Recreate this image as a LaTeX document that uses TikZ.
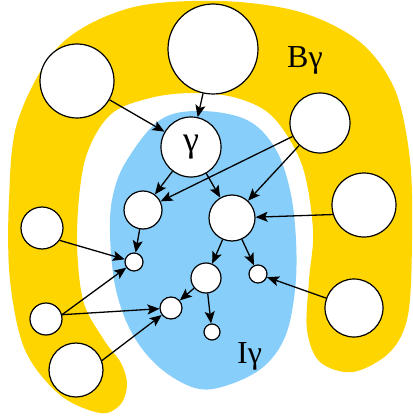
\documentclass[tikz,border=0pt]{standalone}
\usepackage{fontspec}
\setmainfont{Liberation Serif}
\usetikzlibrary{arrows.meta}

\definecolor{byellow}{RGB}{255,213,0}
\definecolor{iblue}{RGB}{135,206,250}

\begin{document}
\begin{tikzpicture}[
  x=1pt, y=-1pt,
  vertex/.style={
    circle,
    draw=black,
    fill=white,
    line width=1.2pt,
    inner sep=0pt,
    font=\fontsize{36}{38}\selectfont
  },
  edge/.style={
    -{Stealth[length=12pt,width=10pt,inset=2.5pt]},
    line width=1.3pt
  },
  regionlabel/.style={
    anchor=base west,
    inner sep=0pt,
    font=\fontsize{32}{34}\selectfont
  }
]
\useasboundingbox (0,0) rectangle (412,417);

% Boundary region B
\fill[byellow] plot[smooth cycle, tension=0.55] coordinates {
  (100,413) (60,395) (25,350) (10,280) (9,200) (18,120) (60,45) (130,8)
  (220,1) (300,12) (360,42) (395,90) (410,160) (412,240) (408,315)
  (390,352) (353,372) (320,362) (307,330) (309,280) (313,230) (302,165)
  (273,117) (237,98) (193,93) (150,98) (110,115) (85,160) (77,233)
  (83,300) (104,340) (121,363) (127,385) (120,405)
};

% Inner region I
\fill[iblue] plot[smooth cycle, tension=0.6] coordinates {
  (200,111) (247,120) (275,148) (290,190) (296,240) (295,290) (285,337)
  (262,368) (225,386) (195,388) (160,368) (133,335) (116,290) (110,235)
  (113,195) (127,160) (160,120)
};

% Region labels
\node[regionlabel] (blab) at (287,68) {Bγ};
\node[regionlabel] (ilab) at (237,363) {Iγ};

% Outer vertices
\node[vertex, minimum size=90pt] (top) at (213,49) {};
\node[vertex, minimum size=74pt] (topleft) at (77,81) {};
\node[vertex, minimum size=60pt] (rightup) at (320,123) {};
\node[vertex, minimum size=64pt] (rightmid) at (364,205) {};
\node[vertex, minimum size=58pt] (rightlow) at (354,308) {};
\node[vertex, minimum size=42pt] (leftup) at (42,228) {};
\node[vertex, minimum size=32pt] (leftlow) at (46,319) {};
\node[vertex, minimum size=54pt] (botleft) at (76,370) {};

% Inner vertices
\node[vertex, minimum size=60pt] (gamma) at (191,147) {γ};
\node[vertex, minimum size=38pt] (a) at (143,210) {};
\node[vertex, minimum size=46pt] (b) at (232,218) {};
\node[vertex, minimum size=18pt] (a1) at (134,262) {};
\node[vertex, minimum size=30pt] (b1) at (206,278) {};
\node[vertex, minimum size=18pt] (b2) at (258,274) {};
\node[vertex, minimum size=22pt] (c1) at (171,308) {};
\node[vertex, minimum size=16pt] (c2) at (212,332) {};

% Edges into gamma
\draw[edge] (top) -- (gamma);
\draw[edge] (topleft) -- (gamma);

% Inner tree
\draw[edge] (gamma) -- (a);
\draw[edge] (gamma) -- (b);
\draw[edge] (a) -- (a1);
\draw[edge] (b) -- (b1);
\draw[edge] (b) -- (b2);
\draw[edge] (b1) -- (c1);
\draw[edge] (b1) -- (c2);

% Edges from the boundary
\draw[edge] (rightup) -- (a);
\draw[edge] (rightup) -- (b);
\draw[edge] (rightmid.197) -- (b);
\draw[edge] (rightlow) -- (b2);
\draw[edge] (leftup.-35) -- (a1);
\draw[edge] (leftlow.15) -- (a1);
\draw[edge] (leftlow.15) -- (c1);
\draw[edge] (botleft.20) -- (c1);

\end{tikzpicture}
\end{document}
